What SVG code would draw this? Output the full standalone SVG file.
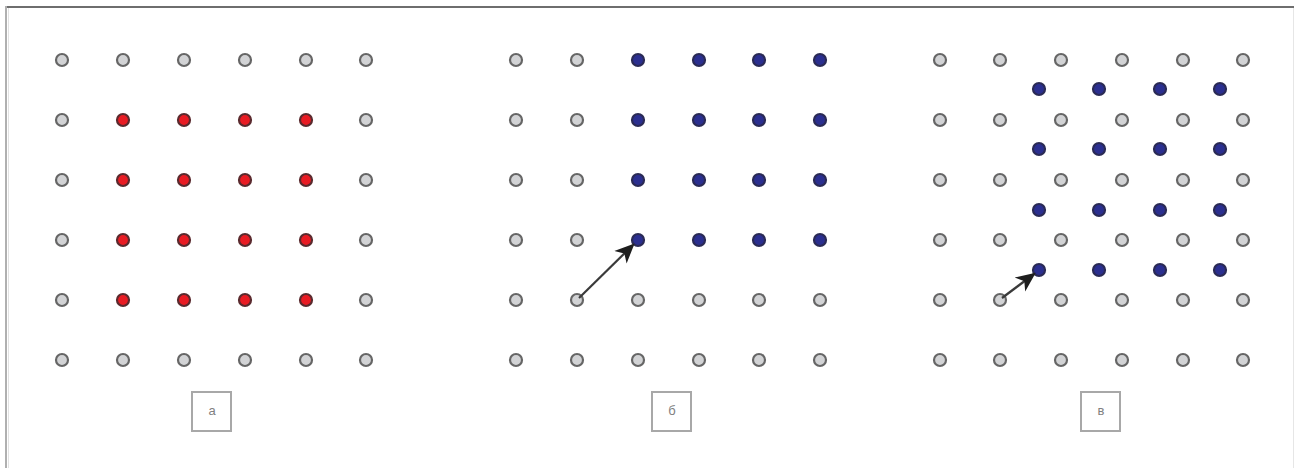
<svg xmlns="http://www.w3.org/2000/svg" width="1294" height="468" viewBox="0 0 1294 468">
<defs>
<style>
.g{fill:#d2d3d5;stroke:#666;stroke-width:2.2}
.r{fill:#e81c24;stroke:#5a2a2e;stroke-width:2.2}
.b{fill:#2b2f8f;stroke:#2a2a55;stroke-width:2.2}
.box{fill:#fff;stroke:#a8a8a8;stroke-width:2}
.lbl{font-family:"Liberation Sans",Arial,sans-serif;font-size:13px;fill:#808080;text-anchor:middle}
.arr{stroke:#3a3a3a;stroke-width:2.2;fill:none}
</style>
<marker id="ah" markerWidth="9" markerHeight="9" refX="8" refY="4.5" orient="auto" markerUnits="strokeWidth">
<path d="M0,0.5 L9,4.5 L0,8.5 L2.5,4.5 Z" fill="#1e1e1e"/>
</marker>
<circle id="dg" r="6" class="g"/>
<circle id="dr" r="6" class="r"/>
<circle id="db" r="6" class="b"/>
</defs>
<rect width="1294" height="468" fill="#fff"/>
<g id="frame">
<line x1="5" y1="7" x2="1294" y2="7" stroke="#6e6e6e" stroke-width="2"/>
<line x1="6" y1="6" x2="6" y2="468" stroke="#b0b0b0" stroke-width="2"/>
<line x1="8.5" y1="8" x2="8.5" y2="468" stroke="#e2e2e2" stroke-width="1"/>
<line x1="1293.5" y1="8" x2="1293.5" y2="468" stroke="#e6e6e6" stroke-width="1"/>
</g>
<g id="panel-a">
<use href="#dg" x="62" y="60"/><use href="#dg" x="123" y="60"/><use href="#dg" x="184" y="60"/><use href="#dg" x="245" y="60"/><use href="#dg" x="306" y="60"/><use href="#dg" x="366" y="60"/>
<use href="#dg" x="62" y="120"/><use href="#dr" x="123" y="120"/><use href="#dr" x="184" y="120"/><use href="#dr" x="245" y="120"/><use href="#dr" x="306" y="120"/><use href="#dg" x="366" y="120"/>
<use href="#dg" x="62" y="180"/><use href="#dr" x="123" y="180"/><use href="#dr" x="184" y="180"/><use href="#dr" x="245" y="180"/><use href="#dr" x="306" y="180"/><use href="#dg" x="366" y="180"/>
<use href="#dg" x="62" y="240"/><use href="#dr" x="123" y="240"/><use href="#dr" x="184" y="240"/><use href="#dr" x="245" y="240"/><use href="#dr" x="306" y="240"/><use href="#dg" x="366" y="240"/>
<use href="#dg" x="62" y="300"/><use href="#dr" x="123" y="300"/><use href="#dr" x="184" y="300"/><use href="#dr" x="245" y="300"/><use href="#dr" x="306" y="300"/><use href="#dg" x="366" y="300"/>
<use href="#dg" x="62" y="360"/><use href="#dg" x="123" y="360"/><use href="#dg" x="184" y="360"/><use href="#dg" x="245" y="360"/><use href="#dg" x="306" y="360"/><use href="#dg" x="366" y="360"/>
<rect class="box" x="192" y="392" width="39" height="39"/>
<text class="lbl" x="212" y="415">а</text>
</g>
<g id="panel-b">
<use href="#dg" x="516" y="60"/><use href="#dg" x="577" y="60"/><use href="#db" x="638" y="60"/><use href="#db" x="699" y="60"/><use href="#db" x="759" y="60"/><use href="#db" x="820" y="60"/>
<use href="#dg" x="516" y="120"/><use href="#dg" x="577" y="120"/><use href="#db" x="638" y="120"/><use href="#db" x="699" y="120"/><use href="#db" x="759" y="120"/><use href="#db" x="820" y="120"/>
<use href="#dg" x="516" y="180"/><use href="#dg" x="577" y="180"/><use href="#db" x="638" y="180"/><use href="#db" x="699" y="180"/><use href="#db" x="759" y="180"/><use href="#db" x="820" y="180"/>
<use href="#dg" x="516" y="240"/><use href="#dg" x="577" y="240"/><use href="#db" x="638" y="240"/><use href="#db" x="699" y="240"/><use href="#db" x="759" y="240"/><use href="#db" x="820" y="240"/>
<use href="#dg" x="516" y="300"/><use href="#dg" x="577" y="300"/><use href="#dg" x="638" y="300"/><use href="#dg" x="699" y="300"/><use href="#dg" x="759" y="300"/><use href="#dg" x="820" y="300"/>
<use href="#dg" x="516" y="360"/><use href="#dg" x="577" y="360"/><use href="#dg" x="638" y="360"/><use href="#dg" x="699" y="360"/><use href="#dg" x="759" y="360"/><use href="#dg" x="820" y="360"/>
<rect class="box" x="652" y="392" width="39" height="39"/>
<text class="lbl" x="672" y="415">б</text>
</g>
<g id="panel-c">
<use href="#dg" x="940" y="60"/><use href="#dg" x="1000" y="60"/><use href="#dg" x="1061" y="60"/><use href="#dg" x="1122" y="60"/><use href="#dg" x="1183" y="60"/><use href="#dg" x="1243" y="60"/>
<use href="#dg" x="940" y="120"/><use href="#dg" x="1000" y="120"/><use href="#dg" x="1061" y="120"/><use href="#dg" x="1122" y="120"/><use href="#dg" x="1183" y="120"/><use href="#dg" x="1243" y="120"/>
<use href="#dg" x="940" y="180"/><use href="#dg" x="1000" y="180"/><use href="#dg" x="1061" y="180"/><use href="#dg" x="1122" y="180"/><use href="#dg" x="1183" y="180"/><use href="#dg" x="1243" y="180"/>
<use href="#dg" x="940" y="240"/><use href="#dg" x="1000" y="240"/><use href="#dg" x="1061" y="240"/><use href="#dg" x="1122" y="240"/><use href="#dg" x="1183" y="240"/><use href="#dg" x="1243" y="240"/>
<use href="#dg" x="940" y="300"/><use href="#dg" x="1000" y="300"/><use href="#dg" x="1061" y="300"/><use href="#dg" x="1122" y="300"/><use href="#dg" x="1183" y="300"/><use href="#dg" x="1243" y="300"/>
<use href="#dg" x="940" y="360"/><use href="#dg" x="1000" y="360"/><use href="#dg" x="1061" y="360"/><use href="#dg" x="1122" y="360"/><use href="#dg" x="1183" y="360"/><use href="#dg" x="1243" y="360"/>
<use href="#db" x="1039" y="89"/><use href="#db" x="1099" y="89"/><use href="#db" x="1160" y="89"/><use href="#db" x="1220" y="89"/>
<use href="#db" x="1039" y="149"/><use href="#db" x="1099" y="149"/><use href="#db" x="1160" y="149"/><use href="#db" x="1220" y="149"/>
<use href="#db" x="1039" y="210"/><use href="#db" x="1099" y="210"/><use href="#db" x="1160" y="210"/><use href="#db" x="1220" y="210"/>
<use href="#db" x="1039" y="270"/><use href="#db" x="1099" y="270"/><use href="#db" x="1160" y="270"/><use href="#db" x="1220" y="270"/>
<rect class="box" x="1081" y="392" width="39" height="39"/>
<text class="lbl" x="1101" y="415">в</text>
</g>
<g id="connectors">
<line class="arr" x1="579" y1="298" x2="633" y2="245" marker-end="url(#ah)"/>
<line class="arr" x1="1002" y1="298" x2="1034" y2="274" marker-end="url(#ah)"/>
</g>
</svg>
